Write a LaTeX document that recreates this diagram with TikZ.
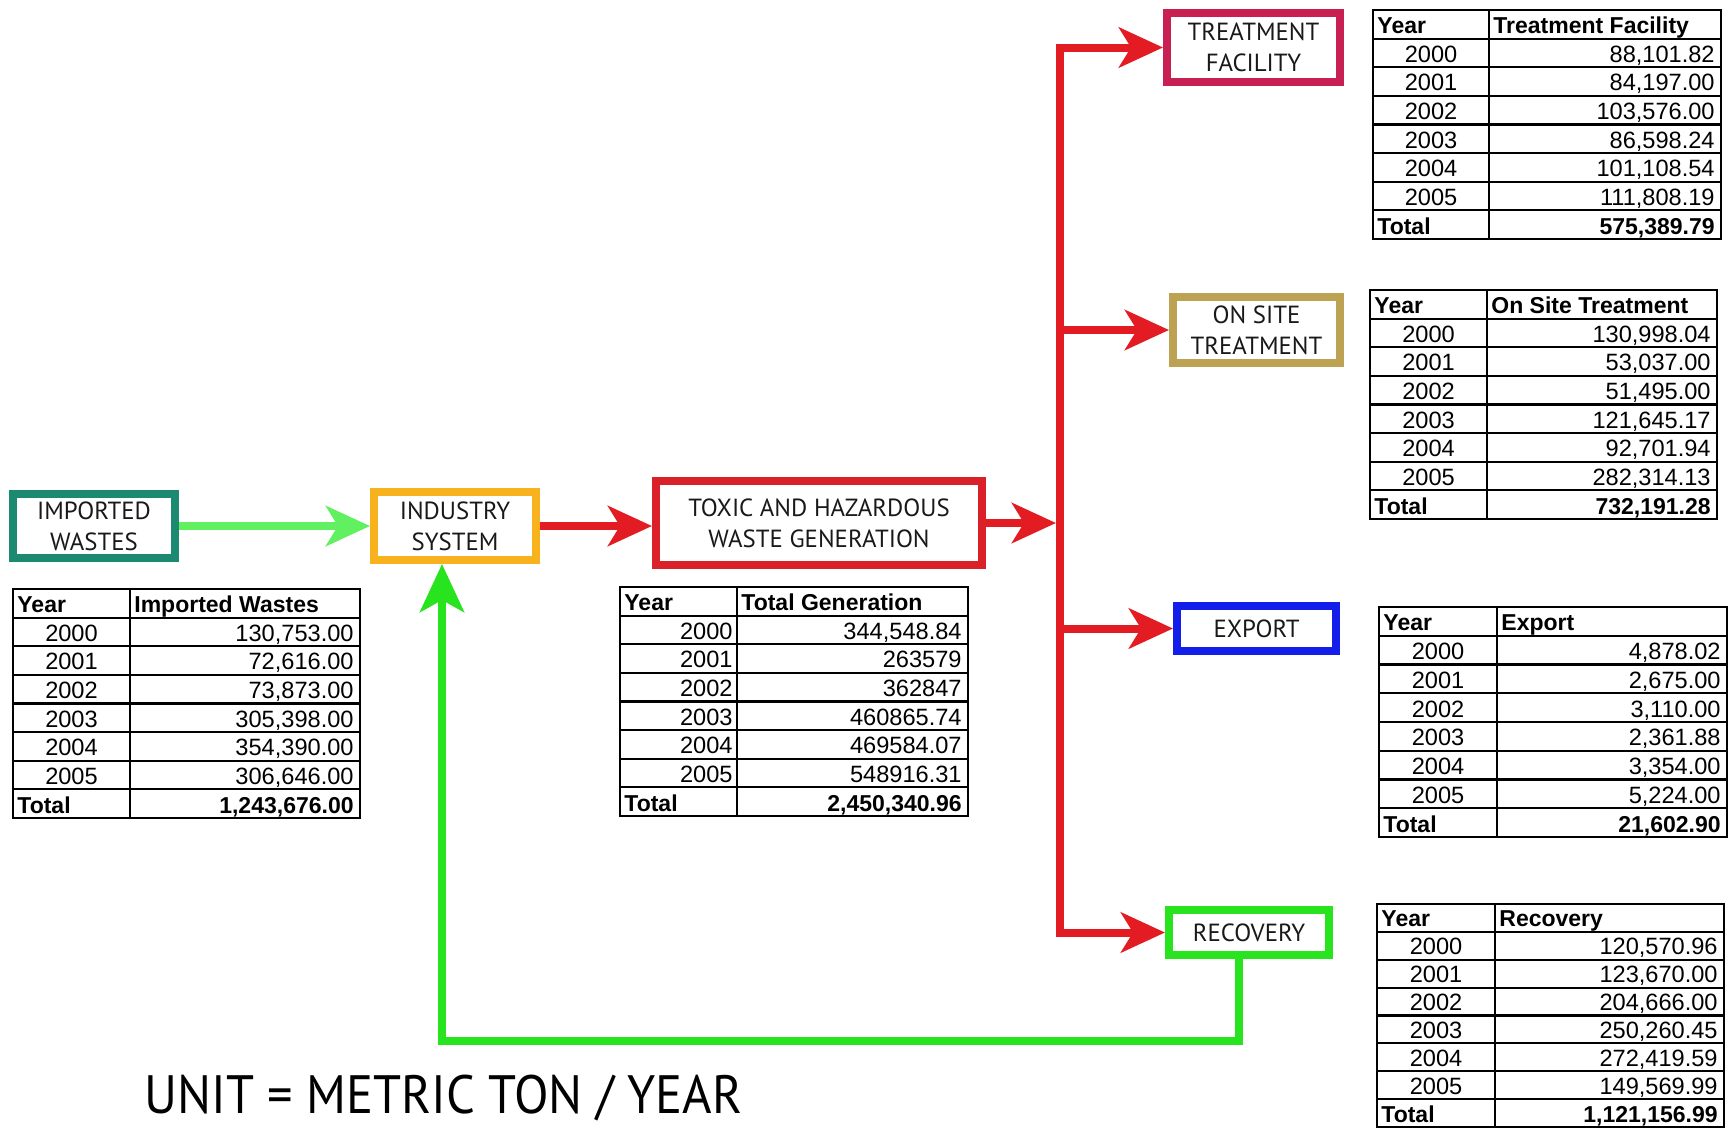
\documentclass[tikz,border=0pt]{standalone}
\usepackage{fontspec}
\setmainfont{Liberation Sans}
\newfontfamily\boxfont{PT Sans}
\usepackage{graphicx}
\usetikzlibrary{arrows.meta}
\definecolor{impteal}{RGB}{28,138,112}
\definecolor{indorange}{RGB}{247,178,30}
\definecolor{arrowred}{RGB}{226,28,34}
\definecolor{toxred}{RGB}{218,32,40}
\definecolor{tfcrimson}{RGB}{200,32,82}
\definecolor{osgold}{RGB}{190,162,84}
\definecolor{expblue}{RGB}{20,30,235}
\definecolor{recgreen}{RGB}{40,228,30}
\definecolor{lightgreen}{RGB}{96,240,96}
\newif\ifyrright
\newcommand\datatab[9]{%
  \pgfmathsetmacro\rh{(#6-#3)/8}
  \draw[tabline] (#2,#3) rectangle (#5,#6);
  \draw[tabline] (#4,#3) -- (#4,#6);
  \foreach \k in {1,...,7}{\draw[tabline] (#2,{#3+\k*\rh}) -- (#5,{#3+\k*\rh});}
  \node[hd,anchor=base west] (#1-yh) at ({#2+4},{#3+\rh-5}) {Year};
  \node[hd,anchor=base west] (#1-vh) at ({#4+4},{#3+\rh-5}) {#7};
  \foreach \yr/\val [count=\k] in {#8}{
    \ifyrright
      \node[cell,anchor=base east] (#1-y\k) at ({#4-4},{#3+(\k+1)*\rh-5}) {\yr};
    \else
      \node[cell,anchor=base] (#1-y\k) at ({(#2+#4)/2},{#3+(\k+1)*\rh-5}) {\yr};
    \fi
    \node[cell,anchor=base east] (#1-v\k) at ({#5-6},{#3+(\k+1)*\rh-5}) {\val};
  }
  \node[hd,anchor=base west] (#1-yt) at ({#2+4},{#6-5}) {Total};
  \node[hd,anchor=base east] (#1-vt) at ({#5-6},{#6-5}) {#9};
}
\begin{document}
\begin{tikzpicture}[x=0.5pt,y=-0.5pt,
  box/.style={draw, line width=4pt, fill=white, align=center, inner sep=0pt,
    font=\boxfont\fontsize{12.4}{15.5}\selectfont, text=black!90},
  tabline/.style={line width=1.1pt, black},
  cell/.style={inner sep=0pt, font=\fontsize{11.8}{13}\selectfont},
  hd/.style={inner sep=0pt, font=\bfseries\fontsize{11.5}{13}\selectfont},
  redarrow/.style={draw=arrowred, line width=4pt, -{Stealth[length=22pt,width=20pt,inset=6pt]}},
  greenarrow/.style={draw=lightgreen, line width=4pt, -{Stealth[length=22pt,width=20pt,inset=6pt]}},
  backarrow/.style={draw=recgreen, line width=4pt, -{Stealth[length=24pt,width=22pt,inset=6pt]}}]
\useasboundingbox (0,0) rectangle (1732,1130);

% boxes
\node[box, draw=impteal, minimum width=81pt, minimum height=32pt] (imp) at (94,526) {IMPORTED\\WASTES};
\node[box, draw=indorange, minimum width=81pt, minimum height=34pt] (ind) at (455,526) {INDUSTRY\\SYSTEM};
\node[box, draw=toxred, minimum width=163pt, minimum height=42pt] (tox) at (819,523) {TOXIC AND HAZARDOUS\\WASTE GENERATION};
\node[box, draw=tfcrimson, minimum width=86.5pt, minimum height=34.5pt] (tf) at (1253.5,47.5) {TREATMENT\\FACILITY};
\node[box, draw=osgold, minimum width=83.5pt, minimum height=33pt] (os) at (1256.5,330) {ON SITE\\TREATMENT};
\node[box, draw=expblue, minimum width=79.5pt, minimum height=22.5pt] (exp) at (1256.5,628.5) {EXPORT};
\node[box, draw=recgreen, minimum width=80pt, minimum height=22.5pt] (rec) at (1249,932.5) {RECOVERY};

% connectors
\coordinate (trunk) at (1060,0);
\coordinate (loopx) at (442,0);
\coordinate (recx) at (1239,0);
\coordinate (loopy) at (0,1041);
\draw[greenarrow] (imp.east) -- (ind.west);
\draw[redarrow] (ind.east) -- (tox.west |- ind.east);
\draw[redarrow, shorten >=2pt] (tox.east) -- (trunk |- tox.east);
\draw[redarrow] (trunk |- rec.west) |- (tf.west);
\draw[redarrow] (trunk |- tf.west) |- (rec.west);
\draw[redarrow] (trunk |- os.west) -- (os.west);
\draw[redarrow] (trunk |- exp.west) -- (exp.west);
\draw[backarrow] (recx |- rec.south) -- (recx |- loopy) -| (loopx |- ind.south);

% tables
\datatab{timp}{13}{589}{130}{360}{818}{Imported Wastes}
  {2000/{130,753.00},2001/{72,616.00},2002/{73,873.00},2003/{305,398.00},2004/{354,390.00},2005/{306,646.00}}{1,243,676.00}
\yrrighttrue
\datatab{ttox}{620}{587}{737}{968}{816}{Total Generation}
  {2000/{344,548.84\hspace{4.5pt}},2001/{263579},2002/{362847},2003/{460865.74},2004/{469584.07},2005/{548916.31}}{2,450,340.96}
\yrrightfalse
\datatab{ttf}{1373}{10}{1489}{1721}{239}{Treatment Facility}
  {2000/{88,101.82},2001/{84,197.00},2002/{103,576.00},2003/{86,598.24},2004/{101,108.54},2005/{111,808.19}}{575,389.79}
\datatab{tos}{1370}{290}{1487}{1717}{519}{On Site Treatment}
  {2000/{130,998.04},2001/{53,037.00},2002/{51,495.00},2003/{121,645.17},2004/{92,701.94},2005/{282,314.13}}{732,191.28}
\datatab{texp}{1379}{607}{1497}{1727}{837}{Export}
  {2000/{4,878.02},2001/{2,675.00},2002/{3,110.00},2003/{2,361.88},2004/{3,354.00},2005/{5,224.00}}{21,602.90}
\datatab{trec}{1377}{904}{1495}{1724}{1127}{Recovery}
  {2000/{120,570.96},2001/{123,670.00},2002/{204,666.00},2003/{250,260.45},2004/{272,419.59},2005/{149,569.99}}{1,121,156.99}

\node[inner sep=0pt, anchor=base west, font=\boxfont\fontsize{27}{30}\selectfont] (unit) at (144,1113)
  {\resizebox{299pt}{\height}{UNIT = METRIC TON / YEAR}};
\end{tikzpicture}
\end{document}
